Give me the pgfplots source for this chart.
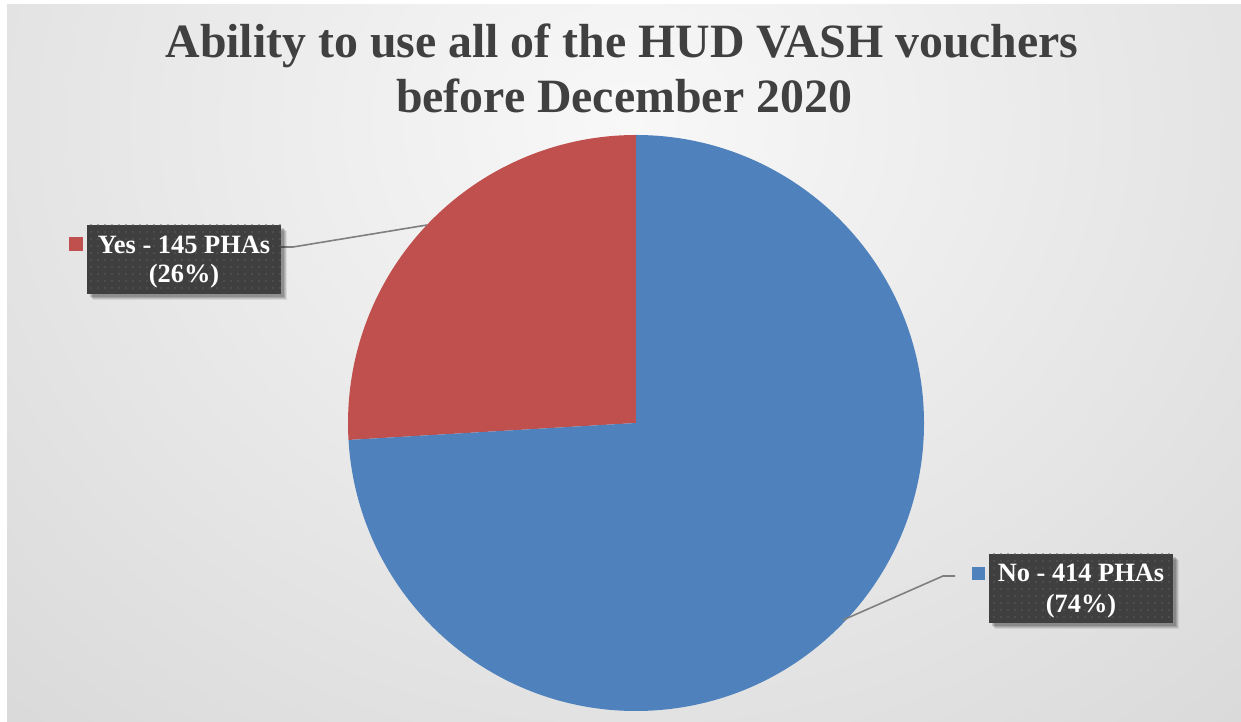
\documentclass[border=0pt]{standalone}
\usepackage{pgfplots}
\pgfplotsset{compat=1.18}
\usepackage{fontspec}
\setmainfont{Liberation Serif}
\usetikzlibrary{patterns.meta}
\definecolor{yescol}{HTML}{C0504D}
\definecolor{nocol}{HTML}{4F81BD}
\definecolor{titlecol}{HTML}{404040}
\definecolor{boxcol}{HTML}{3F3F3F}
\definecolor{dotcol}{HTML}{5C5C5C}
\definecolor{leadcol}{HTML}{7F7F7F}
\definecolor{bgin}{HTML}{F8F8F8}
\definecolor{bgout}{HTML}{C0C0C0}
\def\yesval{145}
\def\noval{414}
\pgfmathsetmacro\yesfrac{\yesval/(\yesval+\noval)}
\pgfmathsetmacro\yesend{90+360*\yesfrac}
\pgfmathsetmacro\noend{450}
\begin{document}
\begin{tikzpicture}
\begin{axis}[scale only axis, width=1241bp, height=722bp,
  xmin=0, xmax=1241, ymin=0, ymax=722, hide axis, clip=false]
% background
\fill[white] (axis cs:0,0) rectangle (axis cs:1241,722);
\begin{scope}
\clip (axis cs:7,0) rectangle (axis cs:1241,717);
\fill[bgout] (axis cs:7,0) rectangle (axis cs:1241,717);
\shade[inner color=bgin, outer color=bgout] (axis cs:630,600) ellipse [x radius=1700bp, y radius=1500bp];
\end{scope}
% title
\node[anchor=base, text=titlecol, font=\fontsize{48}{55}\selectfont\bfseries] at (axis cs:622,664) {Ability to use all of the HUD VASH vouchers};
\node[anchor=base, text=titlecol, font=\fontsize{48}{55}\selectfont\bfseries] at (axis cs:624,609) {before December 2020};
% pie
\fill[yescol] (axis cs:636,299) -- ++(90:288bp) arc[start angle=90, end angle=\yesend, radius=288bp] -- cycle;
\fill[nocol] (axis cs:636,299) -- ++(\yesend:288bp) arc[start angle=\yesend, end angle=\noend, radius=288bp] -- cycle;
% leader lines
\draw[leadcol, line width=1.6bp] (axis cs:427,497) -- (axis cs:293,475) -- (axis cs:281,475);
\draw[leadcol, line width=1.6bp] (axis cs:843,102) -- (axis cs:943,146) -- (axis cs:955,146);
% boxes with shadows
\fill[black, opacity=0.08] (axis cs:93,422) rectangle (axis cs:287,491);
\fill[black, opacity=0.10] (axis cs:92,423) rectangle (axis cs:286,492);
\fill[black, opacity=0.12] (axis cs:91,424) rectangle (axis cs:285,493);
\fill[black, opacity=0.15] (axis cs:90,425) rectangle (axis cs:284,494);
\fill[black, opacity=0.08] (axis cs:995,93) rectangle (axis cs:1179,162);
\fill[black, opacity=0.10] (axis cs:994,94) rectangle (axis cs:1178,163);
\fill[black, opacity=0.12] (axis cs:993,95) rectangle (axis cs:1177,164);
\fill[black, opacity=0.15] (axis cs:992,96) rectangle (axis cs:1176,165);
\fill[boxcol] (axis cs:87,428) rectangle (axis cs:281,497);
\fill[pattern={Dots[distance=7bp, radius=0.8bp]}, pattern color=dotcol] (axis cs:87,428) rectangle (axis cs:281,497);
\fill[boxcol] (axis cs:989,99) rectangle (axis cs:1173,168);
\fill[pattern={Dots[distance=7bp, radius=0.8bp]}, pattern color=dotcol] (axis cs:989,99) rectangle (axis cs:1173,168);
% legend keys
\fill[yescol] (axis cs:69,471) rectangle (axis cs:83,485);
\fill[nocol] (axis cs:972,142) rectangle (axis cs:985,155);
% label text
\node[anchor=base, text=white, font=\fontsize{26.5}{30}\selectfont\bfseries] at (axis cs:184,468) {Yes - 145 PHAs};
\node[anchor=base, text=white, font=\fontsize{26.5}{30}\selectfont\bfseries] at (axis cs:184,439) {(26\%)};
\node[anchor=base, text=white, font=\fontsize{26.5}{30}\selectfont\bfseries] at (axis cs:1081,140) {No - 414 PHAs};
\node[anchor=base, text=white, font=\fontsize{26.5}{30}\selectfont\bfseries] at (axis cs:1081,109) {(74\%)};
\end{axis}
\end{tikzpicture}
\end{document}
